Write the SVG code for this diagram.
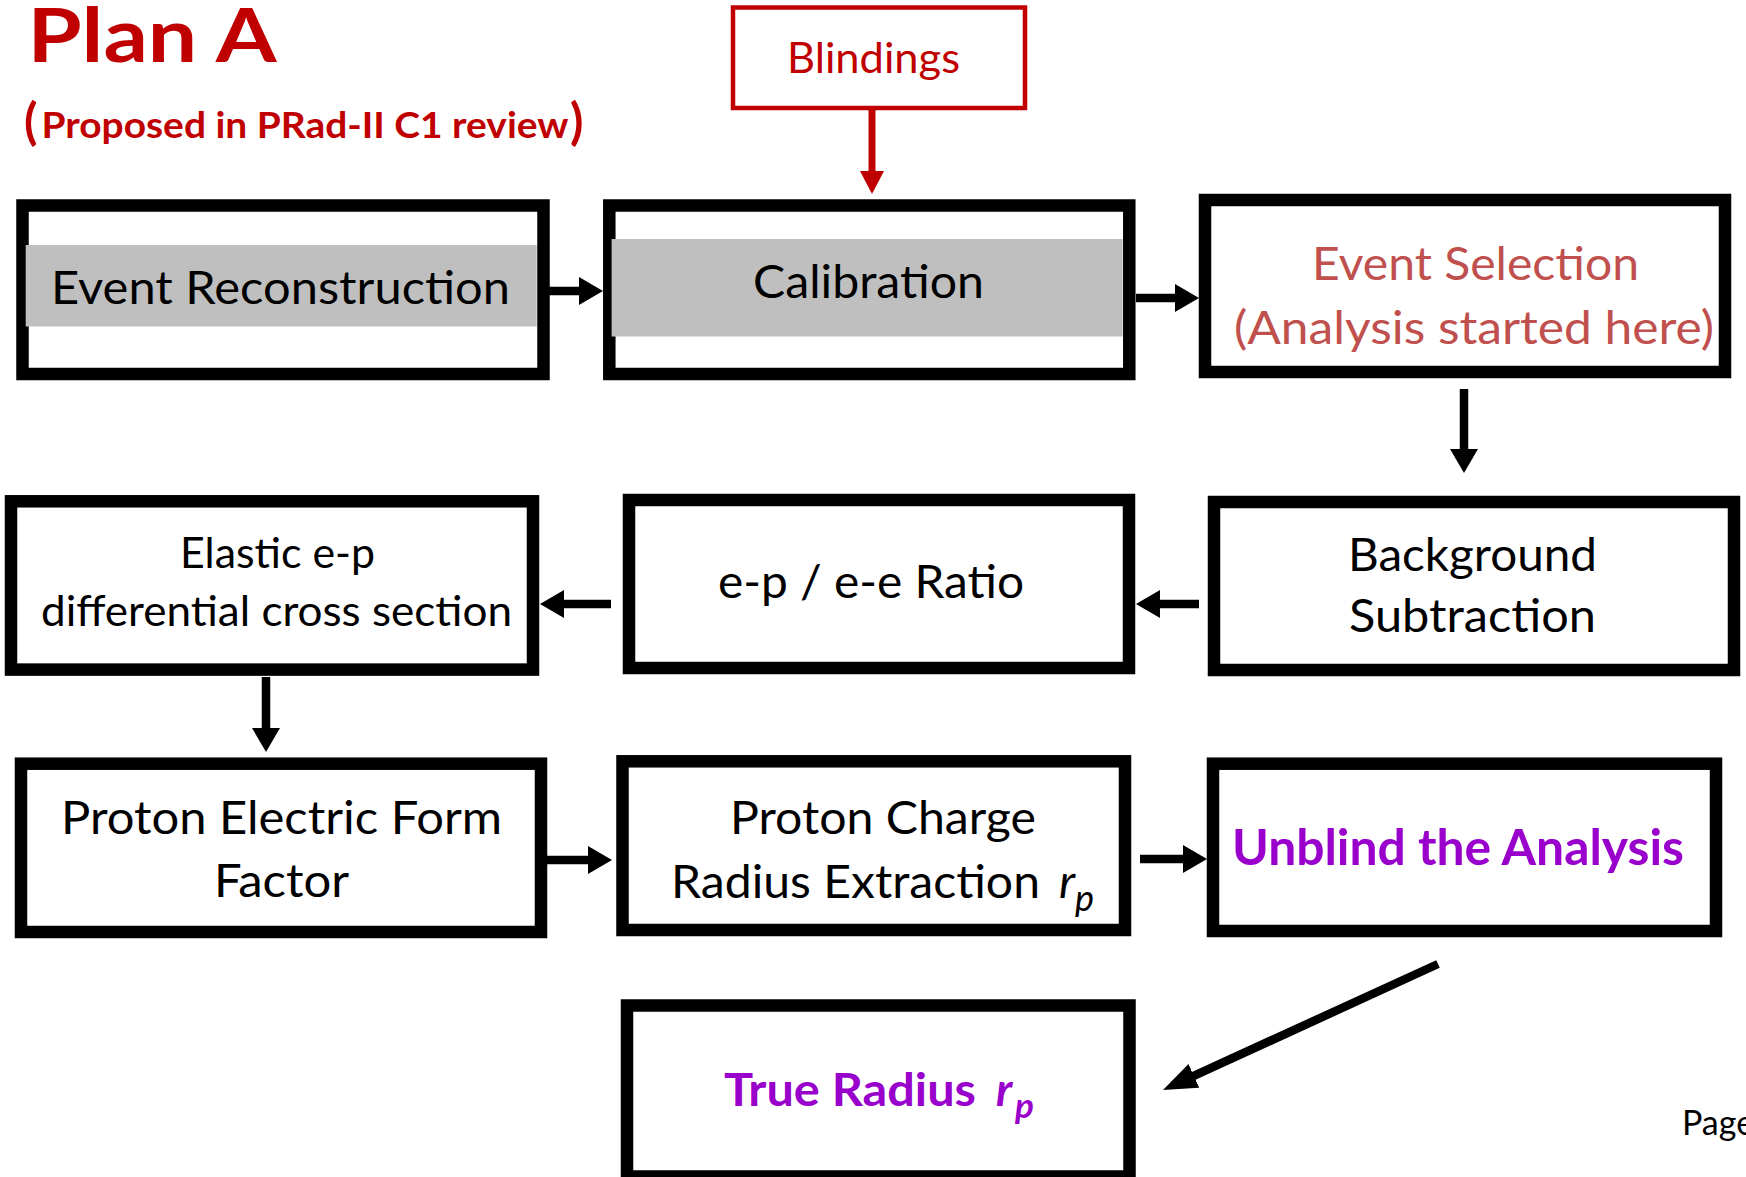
<svg xmlns="http://www.w3.org/2000/svg" width="1746" height="1177" viewBox="0 0 1746 1177">
<style>
  text { font-family: Lato, "Liberation Sans", sans-serif; }
  .box { fill: #ffffff; stroke: #000000; stroke-width: 12.5; }
  .band { fill: #BFBFBF; }
  .lbl { font-size: 47px; fill: #000000; }
  .conn { stroke: #000000; stroke-width: 8.5; fill: none; }
  .red { fill: #C00000; }
  .purple { fill: #9900CC; font-weight: bold; }
</style>
<defs>
  <marker id="ah" viewBox="0 0 24 28" refX="13" refY="14" markerWidth="24" markerHeight="28" markerUnits="userSpaceOnUse" orient="auto">
    <path d="M0,0 L24,14 L0,28 Z" fill="#000000"/>
  </marker>
  <marker id="ahd" viewBox="0 0 34 26" refX="23" refY="13" markerWidth="34" markerHeight="26" markerUnits="userSpaceOnUse" orient="auto">
    <path d="M0,0 L34,13 L0,26 Z" fill="#000000"/>
  </marker>
  <marker id="ahr" viewBox="0 0 23 24" refX="12" refY="12" markerWidth="23" markerHeight="24" markerUnits="userSpaceOnUse" orient="auto">
    <path d="M0,0 L23,12 L0,24 Z" fill="#C00000"/>
  </marker>
</defs>
<rect width="1746" height="1177" fill="#ffffff"/>

<g id="title">
  <text x="27.5" y="62" font-size="75" font-weight="bold" class="red" textLength="249" lengthAdjust="spacingAndGlyphs">Plan A</text>
  <text x="24" y="139" font-size="49" font-weight="bold" class="red">(</text>
  <text x="41.5" y="138" font-size="36" font-weight="bold" class="red" textLength="527" lengthAdjust="spacingAndGlyphs">Proposed in PRad-II C1 review</text>
  <text x="570" y="139" font-size="49" font-weight="bold" class="red">)</text>
</g>

<g id="node-blindings">
  <rect x="733" y="7.5" width="292" height="100.5" fill="#ffffff" stroke="#C00000" stroke-width="4.5"/>
  <text x="787" y="73" font-size="42" class="red" textLength="173" lengthAdjust="spacingAndGlyphs">Blindings</text>
</g>

<g id="node-event-reconstruction">
  <rect class="box" x="22.5" y="205.5" width="521" height="168.5"/>
  <rect class="band" x="25.7" y="245" width="511" height="81.5"/>
  <text class="lbl" x="51" y="304" textLength="459" lengthAdjust="spacingAndGlyphs">Event Reconstruction</text>
</g>

<g id="node-calibration">
  <rect class="box" x="609.3" y="205.5" width="520" height="168.5"/>
  <rect class="band" x="611.6" y="239" width="511" height="97.5"/>
  <text class="lbl" x="753" y="298" textLength="231" lengthAdjust="spacingAndGlyphs">Calibration</text>
</g>

<g id="node-event-selection">
  <rect class="box" x="1205" y="200" width="520" height="172"/>
  <text x="1312" y="280" font-size="46" fill="#C0504D" textLength="327" lengthAdjust="spacingAndGlyphs">Event Selection</text>
  <text x="1234" y="344" font-size="46" fill="#C0504D" textLength="480" lengthAdjust="spacingAndGlyphs">(Analysis started here)</text>
</g>

<g id="node-background-subtraction">
  <rect class="box" x="1214" y="502" width="520" height="168"/>
  <text class="lbl" x="1348" y="571" textLength="249" lengthAdjust="spacingAndGlyphs">Background</text>
  <text class="lbl" x="1349" y="632" textLength="247" lengthAdjust="spacingAndGlyphs">Subtraction</text>
</g>

<g id="node-ratio">
  <rect class="box" x="629" y="500" width="500" height="168"/>
  <text class="lbl" x="718" y="598" textLength="306" lengthAdjust="spacingAndGlyphs">e-p / e-e Ratio</text>
</g>

<g id="node-cross-section">
  <rect class="box" x="11" y="501.3" width="522" height="168.3"/>
  <text x="180" y="568" font-size="43" textLength="195" lengthAdjust="spacingAndGlyphs">Elastic e-p</text>
  <text x="41" y="626" font-size="43" textLength="471" lengthAdjust="spacingAndGlyphs">differential cross section</text>
</g>

<g id="node-form-factor">
  <rect class="box" x="21" y="763.7" width="520" height="168.3"/>
  <text class="lbl" x="61" y="834" textLength="441" lengthAdjust="spacingAndGlyphs">Proton Electric Form</text>
  <text class="lbl" x="214" y="897" textLength="135" lengthAdjust="spacingAndGlyphs">Factor</text>
</g>

<g id="node-radius-extraction">
  <rect class="box" x="622.5" y="761.3" width="502.5" height="168.7"/>
  <text class="lbl" x="730" y="834" textLength="306" lengthAdjust="spacingAndGlyphs">Proton Charge</text>
  <text class="lbl" x="671" y="898" textLength="369" lengthAdjust="spacingAndGlyphs">Radius Extraction</text>
  <text class="lbl" x="1059" y="898" font-style="italic">r</text>
  <text x="1075" y="911" font-size="36" font-style="italic">p</text>
</g>

<g id="node-unblind">
  <rect class="box" x="1213" y="763.7" width="503" height="167.3"/>
  <text class="purple" x="1232" y="865" font-size="49" textLength="452" lengthAdjust="spacingAndGlyphs">Unblind the Analysis</text>
</g>

<g id="node-true-radius">
  <rect class="box" x="627" y="1005.5" width="502.5" height="171"/>
  <text class="purple" x="724" y="1106" font-size="46" textLength="252" lengthAdjust="spacingAndGlyphs">True Radius</text>
  <text class="purple" x="996" y="1106" font-size="46" font-style="italic">r</text>
  <text class="purple" x="1015" y="1118" font-size="35" font-style="italic">p</text>
</g>

<g id="page">
  <text x="1682" y="1135" font-size="34">Page</text>
</g>

<g id="connectors">
  <line class="conn" x1="549" y1="291" x2="592" y2="291" marker-end="url(#ah)"/>
  <line class="conn" x1="1136" y1="298" x2="1188" y2="298" marker-end="url(#ah)"/>
  <line class="conn" x1="1464" y1="389" x2="1464" y2="462" marker-end="url(#ah)"/>
  <line class="conn" x1="1199" y1="604" x2="1147" y2="604" marker-end="url(#ah)"/>
  <line class="conn" x1="611" y1="604" x2="551" y2="604" marker-end="url(#ah)"/>
  <line class="conn" x1="266" y1="677" x2="266" y2="741" marker-end="url(#ah)"/>
  <line class="conn" x1="547" y1="860" x2="601" y2="860" marker-end="url(#ah)"/>
  <line class="conn" x1="1140" y1="859" x2="1196" y2="859" marker-end="url(#ah)"/>
  <line class="conn" x1="1438" y1="964" x2="1173" y2="1085.4" marker-end="url(#ahd)"/>
  <line x1="872" y1="110" x2="872" y2="183" stroke="#C00000" stroke-width="7" marker-end="url(#ahr)"/>
</g>
</svg>
